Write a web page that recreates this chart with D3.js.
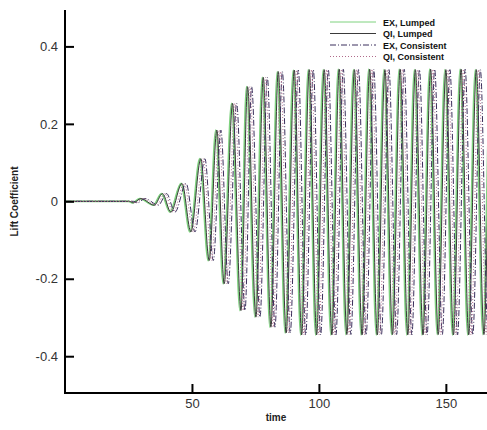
<!DOCTYPE html>
<html><head><meta charset="utf-8">
<script src="https://cdn.jsdelivr.net/npm/d3@7"></script>
<style>body{margin:0;background:#fff}svg{display:block}</style>
</head><body>
<script>
// Data: extrema of the lift coefficient history (time, value)
const extremaValues = [0, 0, -0.004, 0.007, -0.010, 0.020, -0.028, 0.046, -0.079, 0.110, -0.153, 0.184, -0.213, 0.253, -0.282, 0.296, -0.299, 0.320, -0.325, 0.335, -0.340, 0.339, -0.345, 0.340, -0.345, 0.340, -0.345, 0.341, -0.344, 0.340, -0.345, 0.341, -0.345, 0.340, -0.344, 0.341, -0.345, 0.340, -0.345, 0.341, -0.344, 0.340, -0.345, 0.341, -0.345, 0.340, -0.344, 0.341, -0.345];
const timesExLumped = [0, 25, 26.5, 29.5, 34.8, 38.0, 41.3, 45.7, 49.2, 53.1, 56.4, 59.4, 62.3, 65.6, 68.9, 71.5, 74.8, 77.7, 80.7, 83.6, 86.7, 89.9, 92.8, 95.8, 98.7, 101.7, 104.7, 107.6, 110.6, 113.6, 116.6, 119.6, 122.6, 125.6, 128.6, 131.6, 134.6, 137.6, 140.6, 143.6, 146.6, 149.6, 152.6, 155.6, 158.6, 161.6, 164.6, 167.6, 170.6];
const timesQiLumped = [0, 25.4, 26.9, 29.9, 35.2, 38.4, 41.7, 46.1, 49.6, 53.5, 56.8, 59.8, 62.7, 66.0, 69.3, 71.9, 75.2, 78.1, 81.1, 84.0, 87.1, 90.3, 93.2, 96.2, 99.1, 102.1, 105.1, 108.0, 111.0, 114.0, 117.0, 120.0, 123.0, 126.0, 129.0, 132.0, 135.0, 138.0, 141.0, 144.0, 147.0, 150.0, 153.0, 156.0, 159.0, 162.0, 165.0, 168.0, 171.0];
const timesExConsistent = [0, 27, 28.5, 31.5, 36.8, 40.0, 43.3, 47.7, 51.2, 55.1, 58.4, 61.4, 64.3, 67.6, 70.9, 73.5, 76.8, 79.7, 82.7, 85.6, 88.7, 91.9, 94.8, 97.8, 100.7, 103.7, 106.7, 109.6, 112.6, 115.6, 118.6, 121.6, 124.6, 127.6, 130.6, 133.6, 136.6, 139.6, 142.6, 145.6, 148.6, 151.6, 154.6, 157.6, 160.6, 163.6, 166.6, 169.6, 172.6];
const timesQiConsistent = [0, 26.3, 27.8, 30.8, 36.1, 39.3, 42.6, 47.0, 50.5, 54.4, 57.7, 60.7, 63.6, 66.9, 70.2, 72.8, 76.1, 79.0, 82.0, 84.9, 88.0, 91.2, 94.1, 97.1, 100.0, 103.0, 106.0, 108.9, 111.9, 114.9, 117.9, 120.9, 123.9, 126.9, 129.9, 132.9, 135.9, 138.9, 141.9, 144.9, 147.9, 150.9, 153.9, 156.9, 159.9, 162.9, 165.9, 168.9, 171.9];
const seriesNames = ["EX, Lumped", "QI, Lumped", "EX, Consistent", "QI, Consistent"];
const xTicks = [50, 100, 150];
const yTicks = [-0.4, -0.2, 0, 0.2, 0.4];
const yTickLabels = ["-0.4", "-0.2", "0", "0.2", "0.4"];

(function () {
const W = 487, H = 430;
const mLeft = 65, mRight = 487, mTop = 10, mBottom = 393;
const svg = d3.select("body").append("svg").attr("width", W).attr("height", H);
const x = d3.scaleLinear().domain([0, 166.2]).range([mLeft, mRight]);
const y = d3.scaleLinear().domain([-0.495, 0.494]).range([mBottom, mTop]);

svg.append("defs").append("clipPath").attr("id", "clip")
  .append("rect").attr("x", mLeft).attr("y", mTop).attr("width", mRight - mLeft).attr("height", mBottom - mTop);

const styles = [
  {color: "#7fd27f", width: 1.8, dash: null},
  {color: "#3a3a3a", width: 1.0, dash: null},
  {color: "#3b2f5c", width: 1.0, dash: "6,2,1,2"},
  {color: "#b06a8a", width: 1.0, dash: "1,2"}
];
const timesList = [timesExLumped, timesQiLumped, timesExConsistent, timesQiConsistent];
const line = d3.line().x(d => x(d[0])).y(d => y(d[1])).curve(d3.curveMonotoneX);
const g = svg.append("g").attr("clip-path", "url(#clip)");
timesList.forEach((ts, i) => {
  const pts = ts.map((t, k) => [t, extremaValues[k]]);
  g.append("path").datum(pts).attr("d", line)
    .attr("fill", "none").attr("stroke", styles[i].color)
    .attr("stroke-width", styles[i].width)
    .attr("stroke-dasharray", styles[i].dash);
});

const xAxis = d3.axisBottom(x).tickValues(xTicks).tickSize(-9).tickPadding(6).tickFormat(d3.format("d"));
const gx = svg.append("g").attr("transform", `translate(0,${mBottom})`).call(xAxis);
const yAxis = d3.axisLeft(y).tickValues(yTicks).tickSize(-9).tickPadding(7).tickFormat((d, i) => yTickLabels[i]);
const gy = svg.append("g").attr("transform", `translate(${mLeft},0)`).call(yAxis);
[gx, gy].forEach(a => {
  a.select(".domain").remove();
  a.selectAll(".tick line").attr("stroke", "#000").attr("stroke-width", 2);
  a.selectAll(".tick text").attr("fill", "#333").attr("font-family", "Liberation Sans, Arial, sans-serif").attr("font-size", 13);
});
svg.append("line").attr("x1", mLeft).attr("x2", mLeft).attr("y1", mTop).attr("y2", mBottom + 1).attr("stroke", "#000").attr("stroke-width", 2);
svg.append("line").attr("x1", mLeft - 1).attr("x2", W).attr("y1", mBottom).attr("y2", mBottom).attr("stroke", "#000").attr("stroke-width", 2);

svg.append("text").attr("x", (mLeft + mRight) / 2).attr("y", 421).attr("text-anchor", "middle")
  .attr("font-family", "Liberation Sans, Arial, sans-serif").attr("font-weight", "bold").attr("font-size", 10).attr("fill", "#222").text("time");
svg.append("text").attr("transform", `translate(18,${(mTop + mBottom) / 2}) rotate(-90)`).attr("text-anchor", "middle")
  .attr("font-family", "Liberation Sans, Arial, sans-serif").attr("font-weight", "bold").attr("font-size", 10).attr("fill", "#222").text("Lift Coefficient");

const lg = svg.append("g");
seriesNames.forEach((name, i) => {
  const ly = 22 + i * 11.5;
  lg.append("line").attr("x1", 330).attr("x2", 376).attr("y1", ly).attr("y2", ly)
    .attr("stroke", styles[i].color).attr("stroke-width", 1).attr("stroke-dasharray", styles[i].dash);
  lg.append("text").attr("x", 383).attr("y", ly + 3.5)
    .attr("font-family", "Liberation Sans, Arial, sans-serif").attr("font-weight", "bold").attr("font-size", 9).attr("fill", "#111").text(name);
});
})();
</script>
</body></html>
